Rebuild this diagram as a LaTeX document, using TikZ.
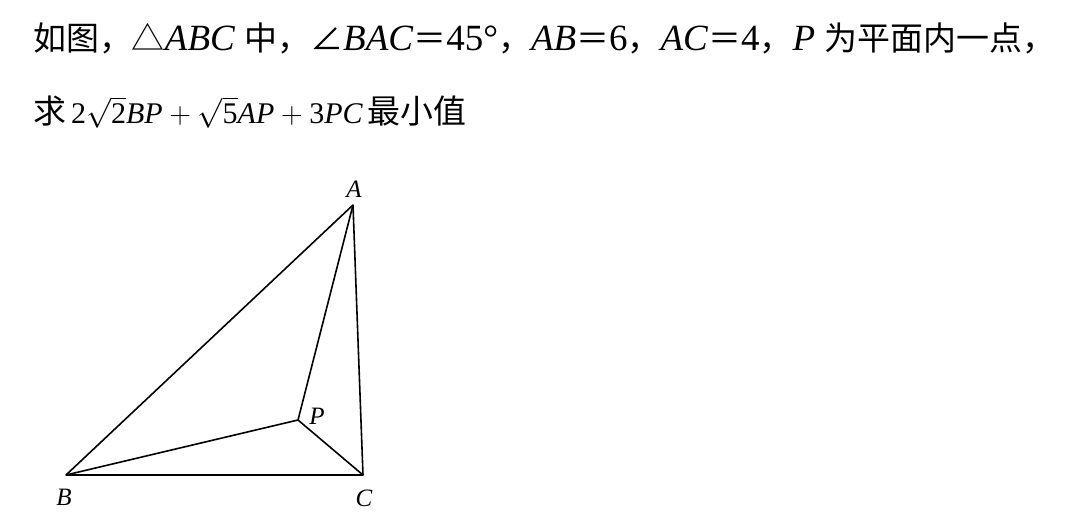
\documentclass[tikz,border=0pt]{standalone}
\usepackage{fix-cm}
\usepackage{fontspec}
\setmainfont{Liberation Serif}
\newfontfamily\cjk[Scale=0.89]{Noto Sans CJK SC}
\newcommand{\vx}[1]{\textit{#1}}
\begin{document}
\begin{tikzpicture}[x=1pt,y=-1pt,
    txt/.style={anchor=west, inner sep=0pt, font=\fontsize{37}{37}\selectfont},
    mtxt/.style={anchor=west, inner sep=0pt, font=\fontsize{30}{30}\selectfont},
    lbl/.style={inner sep=0pt, font=\fontsize{25}{25}\selectfont\itshape},
    edge/.style={line width=1.6pt, line join=round}]
\useasboundingbox (0,0) rectangle (1080,518);

        % the question, two lines
        \node[txt] (line1) at (33,38) {{\cjk 如图，△}\vx{ABC} {\cjk 中，∠}\vx{BAC}{\cjk ＝}45°{\cjk ，}\vx{AB}{\cjk ＝}6{\cjk ，}\vx{AC}{\cjk ＝}4{\cjk ，}\vx{P} {\cjk 为平面内一点，}};
        \node[mtxt] (line2) at (33,112) {{\cjk\fontsize{37}{37}\selectfont 求}\,$\textrm{2}\sqrt{\textrm{2}}\vx{BP}+\sqrt{\textrm{5}}\vx{AP}+\textrm{3}\vx{PC}$\,{\cjk\fontsize{37}{37}\selectfont 最小值}};

        % the triangle and the point inside it
        \coordinate (A) at (353,205);
        \coordinate (B) at (66,475);
        \coordinate (C) at (363,475);
        \coordinate (P) at (298,420);
        \draw[edge] (A) -- (B) -- (C) -- cycle;
        \draw[edge] (B) -- (P) -- (A) (P) -- (C);

        \node[lbl] (la) at (354,189) {A};
        \node[lbl] (lb) at (64,497) {B};
        \node[lbl] (lc) at (364,498) {C};
        \node[lbl] (lp) at (317,416) {P};
      \end{tikzpicture}
\end{document}
